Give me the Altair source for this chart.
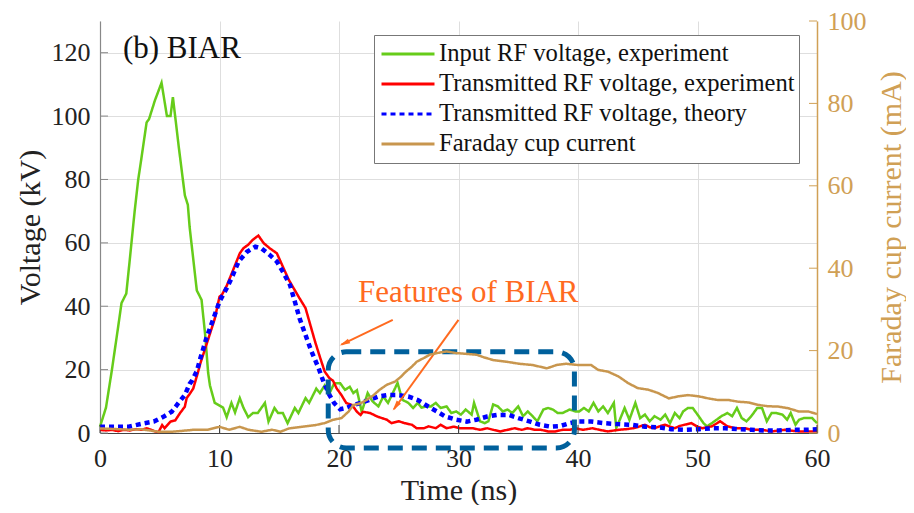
import altair as alt
import pandas as pd

SERIES = ["Input RF voltage, experiment", "Transmitted RF voltage, experiment",
          "Transmitted RF voltage, theory", "Faraday cup current"]
COLORS = ["#66CC1A", "#FF0000", "#0000FF", "#C8964E"]
DASHES = [[1, 0], [1, 0], [5, 4], [1, 0]]
FONT = "Liberation Serif"
TAN = "#D0A055"

# Input RF voltage, experiment (kV)
green_t = [0, 0.5, 1.0, 1.5, 1.8, 2.2, 2.5, 2.9, 3.2, 3.4, 3.9, 4.1, 4.6, 5.15, 5.6, 5.9, 6.1, 6.6,
           7.1, 7.35, 7.5, 7.8, 8.1, 8.5, 8.8, 9.05, 9.2, 9.6, 10.3, 10.6, 11.0, 11.3, 11.7, 12.0,
           12.4, 12.8, 13.2, 13.8, 14.1, 14.6, 14.9, 15.3, 15.7, 16.3, 16.6, 17.2, 17.5, 18.1, 18.4,
           18.8, 19.2, 19.6, 20.1, 20.5, 20.9, 21.2, 21.5, 21.9, 22.4, 22.8, 23.3, 23.7, 24.1, 24.5,
           24.9, 25.3, 25.8, 26.2, 26.6, 26.9, 27.3, 27.7, 28.1, 28.5, 29.0, 29.4, 29.8, 30.2, 30.6,
           31.1, 31.3, 31.8, 32.2, 32.5, 32.9, 33.3, 33.7, 34.1, 34.5, 35.0, 35.4, 35.8, 36.2, 36.6,
           37.1, 37.5, 37.9, 38.3, 38.7, 39.3, 39.8, 40.1, 40.5, 40.9, 41.3, 41.7, 42.1, 42.5, 43.0,
           43.2, 43.5, 43.9, 44.3, 44.8, 45.2, 45.6, 46.0, 46.4, 46.9, 47.3, 47.7, 48.1, 48.5, 48.8,
           49.2, 49.6, 50.1, 50.5, 50.8, 51.2, 51.6, 52.0, 52.5, 52.9, 53.3, 53.7, 54.1, 54.5, 55.0,
           55.4, 55.8, 56.2, 56.6, 57.1, 57.5, 57.8, 58.2, 58.5, 58.9, 59.6, 60.0]
green_v = [2, 8, 20, 33, 41, 44, 55, 70, 80, 85, 98, 99, 105, 110.5, 100, 100, 106, 90,
           75, 72, 65, 55, 45, 42, 31, 19, 15, 9.5, 8, 5, 9.5, 6.5, 11, 8,
           5, 6.3, 6.3, 9.5, 3.6, 7.9, 6.3, 6.3, 3.1, 7.9, 6.3, 11, 9.5, 14, 12.6,
           15, 12.5, 15.7, 15.7, 13.6, 14.6, 12.6, 13.5, 6.7, 12.6, 10, 8.4, 11.5, 9.5, 12.6,
           15.8, 10.5, 9.5, 7.9, 9.5, 8, 8.4, 8.4, 9.5, 7.9, 8.4, 6.3, 6.8, 5.8, 7.4,
           5.8, 9.5, 3.7, 3.1, 3.7, 9, 8.4, 6.8, 7.4, 6.3, 8.4, 5.3, 6.8, 5.3, 3.7,
           7.4, 7.9, 7.4, 6.3, 6.3, 7.4, 6.8, 6.8, 7.9, 6.8, 9.5, 6.8, 8.4, 6.3, 9.5,
           1.6, 4.2, 7.9, 4.2, 9.5, 4.7, 5.8, 3.7, 5.3, 4.2, 5.8, 3.1, 6.3, 4.7, 6.8,
           7.9, 7.9, 5.3, 3.1, 2.1, 3.1, 4.2, 5.3, 6.3, 5.3, 7.9, 4.7, 3.7, 5.3, 7.9,
           7.9, 3.7, 6.3, 6.3, 5.8, 4.2, 6.3, 2.6, 4.2, 4.7, 4.7, 3.1]

# Transmitted RF voltage, experiment (kV)
red_t = [0, 0.5, 1.0, 1.5, 2.0, 2.5, 3.0, 3.5, 3.9, 4.3, 4.6, 4.9, 5.2, 5.4, 5.9, 6.3, 6.7, 7.1,
         7.25, 7.5, 7.8, 8.2, 8.4, 8.9, 9.6, 10.0, 10.2, 10.6, 11.2, 11.7, 12.0, 12.4, 12.8, 13.25,
         13.7, 14.2, 14.8, 15.3, 15.8, 16.2, 16.7, 17.2, 17.6, 18.0, 18.4, 18.8, 19.2, 19.5, 19.8,
         20.2, 20.6, 21.1, 21.5, 21.8, 22.0, 22.6, 23.2, 23.6, 24.0, 24.4, 25.0, 25.5, 26.1, 26.5,
         27.1, 27.5, 28.1, 28.5, 29.0, 29.6, 30.1, 30.7, 31.2, 31.8, 32.4, 32.9, 33.5, 34.1, 34.7,
         35.3, 35.8, 36.4, 36.9, 37.5, 38.1, 38.7, 39.3, 39.8, 40.4, 41.2, 41.8, 42.5, 43.4, 44.0,
         44.6, 45.1, 45.6, 46.0, 46.4, 46.9, 47.3, 47.7, 48.1, 48.5, 48.9, 49.5, 50.0, 50.4, 51.2,
         51.9, 52.5, 53.2, 54.0, 54.5, 55.4, 56.2, 57.3, 58.4, 59.6, 60.0]
red_v = [1, 0.8, 1.0, 0.6, 1.0, 0.8, 1.2, 1.0, 1.5, 1.0, 0.5, 0.3, 2.5, 1.5, 3.6, 4, 6.3, 8.3,
         11, 12.3, 14, 19.2, 22, 27.8, 36, 43, 43.6, 46.4, 52, 56.7, 58.3, 59.4, 61, 62.3,
         59.9, 58.3, 56.7, 52.5, 48.3, 45.7, 42.5, 39.4, 34.1, 28.8, 24, 19.4, 17.3, 16.5, 14.1,
         12, 9.5, 8.8, 6.7, 5.7, 6.7, 6.3, 5.2, 4.7, 4.2, 3.1, 3.7, 3.1, 2.6, 1.5,
         1.5, 2.1, 1.5, 2.6, 1.5, 2.0, 1.5, 1.5, 1.5, 1.0, 1.5, 1.0, 0.5, 1.0, 1.5,
         1.0, 1.5, 1.0, 1.0, 0.5, 0.5, 1.0, 1.0, 1.5, 1.0, 1.5, 1.0, 0.5, 1.0, 1.2,
         1.5, 2.0, 2.6, 1.8, 1.5, 2.2, 2.6, 2.0, 1.5, 2.2, 2.6, 3.1, 2.0, 1.5, 2.1,
         3.7, 2.1, 1.5, 1.5, 1.0, 1.0, 0.5, 1.0, 0.5, 0.5, 0.5]

# Transmitted RF voltage, theory (kV)
blue_t = [0, 1.0, 2.4, 3.6, 4.5, 5.3, 6.0, 6.55, 7.1, 7.5, 7.7, 8.1, 8.4, 8.9, 9.5, 10.0, 10.6,
          11.0, 11.6, 12.3, 13.0, 13.5, 14.2, 14.8, 15.3, 15.9, 16.3, 16.7, 17.2, 17.7, 18.3, 18.7,
          19.2, 19.6, 20.1, 20.6, 21.2, 21.8, 22.5, 23.3, 24.1, 24.9, 25.8, 26.6, 27.5, 28.2, 28.9,
          29.8, 30.7, 31.5, 32.4, 33.2, 34.2, 35.0, 36.0, 36.8, 37.7, 38.5, 39.3, 40.0, 41.1, 42.2,
          43.4, 44.5, 45.6, 46.7, 47.8, 48.9, 50.1, 51.2, 52.3, 53.4, 54.5, 55.7, 56.8, 57.9, 59.0,
          60.0]
blue_v = [2, 2, 2, 3, 3.6, 5.1, 6.7, 9.4, 12, 15.5, 16.5, 19.5, 23.6, 29.9, 36.2, 41.5, 45.7,
          48.8, 54.1, 57.2, 58.8, 58.3, 56.2, 54.1, 50.9, 46.7, 41.5, 36.2, 30.9, 25.7, 20.4, 16.2,
          12, 9.4, 7.5, 7.9, 8.8, 9.5, 10.4, 11.5, 12, 12, 11.5, 10.4, 8.3, 6.8, 5.2,
          4.2, 3.6, 4.2, 5.2, 5.7, 5.7, 4.7, 3.6, 2.6, 2.0, 2.2, 3.1, 3.6, 3.6, 3.1,
          2.8, 2.6, 2.0, 1.8, 1.2, 1.0, 1.2, 1.5, 1.5, 1.2, 1.0, 0.8, 0.8, 1.0, 1.0,
          1.2]

# Faraday cup current (mA)
tan_t = [0, 1.0, 2.4, 3.5, 4.9, 6.0, 6.8, 7.9, 9.0, 10.0, 10.8, 11.7, 12.4, 13.5, 14.4, 15.1, 15.8,
         16.9, 18.0, 18.8, 19.5, 20.2, 20.8, 21.2, 21.8, 22.3, 22.9, 23.4, 24.0, 24.7, 25.2, 25.6,
         26.1, 26.5, 27.1, 27.6, 28.2, 29.0, 29.8, 30.7, 31.5, 32.1, 32.9, 34.0, 35.1, 36.2, 37.4,
         38.2, 39.0, 40.0, 41.1, 41.7, 42.5, 43.4, 44.2, 45.0, 45.9, 46.7, 47.6, 48.4, 49.2, 50.1,
         50.9, 51.7, 52.6, 53.4, 54.3, 55.1, 55.9, 56.8, 57.6, 58.5, 59.3, 60.0]
tan_i = [1.1, 1.0, 0.8, 0.9, 0.3, 0.3, 0.5, 0.8, 0.8, 1.5, 0.8, 1.5, 0.8, 0.3, 0.8, 0.3, 1.1,
         1.5, 1.9, 2.4, 3.2, 3.6, 5.2, 6.8, 7.2, 8.0, 9.2, 10.5, 11.7, 12.5, 13.7, 14.9,
         16.1, 17.3, 18.2, 19.0, 19.4, 19.8, 19.4, 19.2, 19.0, 18.4, 17.7, 17.3, 16.8, 16.5, 15.7,
         16.5, 16.8, 16.5, 16.5, 15.3, 14.9, 13.7, 12.1, 10.9, 10.5, 9.7, 8.4, 8.9, 9.2, 8.9,
         8.4, 8.0, 8.0, 7.6, 7.4, 6.8, 6.5, 6.4, 6.0, 5.2, 5.2, 4.6]

# Axis tick values
x_ticks = [0, 10, 20, 30, 40, 50, 60]
yl_ticks = [0, 20, 40, 60, 80, 100, 120]
yr_ticks = [0, 20, 40, 60, 80, 100]

# Annotations (data units)
box_x = [19.1]; box_x2 = [39.7]; box_y = [-4.7]; box_y2 = [25.6]
arrow_t1 = [24.5, 30.0]; arrow_v1 = [35.7, 35.7]
arrow_t2 = [20.2, 24.6]; arrow_v2 = [27.9, 7.5]
head_t = [20.45, 24.75]; head_v = [28.3, 8.4]; head_angle = [244, 216]
ARROWHEAD = "M0,-1L0.5,1L-0.5,1Z"

def frame(t, v, name):
    return pd.DataFrame({"t": t, "v": v, "series": name})

xs = alt.Scale(domain=[0, 60], nice=False)
yls = alt.Scale(domain=[0, 130], nice=False)
yrs = alt.Scale(domain=[0, 100], nice=False)

legend = alt.Legend(
    title=None, orient="none", legendX=274, legendY=14,
    labelFont=FONT, labelFontSize=24.6, labelColor="#111", labelOffset=3, labelLimit=500,
    symbolType="stroke", symbolSize=2809, symbolStrokeWidth=3, symbolOffset=2,
    clipHeight=30, padding=4, rowPadding=0,
    strokeColor="#777", fillColor="white",
)
color = alt.Color("series:N", scale=alt.Scale(domain=SERIES, range=COLORS), legend=legend)
dash = alt.StrokeDash("series:N", scale=alt.Scale(domain=SERIES, range=DASHES), legend=legend)

x_axis = alt.Axis(values=x_ticks, title="Time (ns)", grid=True, gridColor="#DEDEDE", tickSize=0,
                  labelFlush=False, labelFont=FONT, labelFontSize=26, labelColor="#222",
                  titleFont=FONT, titleFontSize=30, titleFontWeight="normal", titleColor="#222",
                  titleBaseline="alphabetic", titleY=66,
                  labelPadding=12, domainColor="#444", domainWidth=1.2)
yl_axis = alt.Axis(values=yl_ticks, title="Voltage (kV)", grid=True, gridColor="#DEDEDE", tickSize=0,
                   labelFont=FONT, labelFontSize=26, labelColor="#222",
                   titleFont=FONT, titleFontSize=30, titleFontWeight="normal", titleColor="#222",
                   labelPadding=10, titlePadding=6, domainColor="#888", domainWidth=1.2)
yr_axis = alt.Axis(values=yr_ticks, title="Faraday cup current (mA)", orient="right", grid=False,
                   tickSize=0, labelFont=FONT, labelFontSize=26, labelColor=TAN,
                   titleFont=FONT, titleFontSize=30, titleFontWeight="normal", titleColor=TAN,
                   titleAngle=270, titleBaseline="top",
                   labelPadding=10, titlePadding=10, domainColor=TAN, domainWidth=1.5)

def xenc(field="t"):
    return alt.X(f"{field}:Q", scale=xs, axis=x_axis)

def ylenc(field="v"):
    return alt.Y(f"{field}:Q", scale=yls, axis=yl_axis)

def yrenc(field="v"):
    return alt.Y(f"{field}:Q", scale=yrs, axis=yr_axis)

green = alt.Chart(frame(green_t, green_v, SERIES[0])).mark_line(strokeWidth=2.5).encode(
    x=xenc(), y=ylenc(), color=color, strokeDash=dash)
red = alt.Chart(frame(red_t, red_v, SERIES[1])).mark_line(strokeWidth=2.5).encode(
    x=xenc(), y=ylenc(), color=color, strokeDash=dash)
blue = alt.Chart(frame(blue_t, blue_v, SERIES[2])).mark_line(strokeWidth=4.5, strokeCap="butt").encode(
    x=xenc(), y=ylenc(), color=color, strokeDash=dash)

lticks = alt.Chart(pd.DataFrame({"v": yl_ticks})).mark_rule(color="#888", strokeWidth=1).encode(
    y=ylenc(), x=alt.value(0), x2=alt.value(8))
bticks = alt.Chart(pd.DataFrame({"t": x_ticks})).mark_rule(color="#444", strokeWidth=1).encode(
    x=xenc(), y=alt.value(412), y2=alt.value(404))

box = alt.Chart(pd.DataFrame({"t": box_x, "x2": box_x2, "v": box_y, "y2": box_y2})).mark_rect(
    fill=None, fillOpacity=0, stroke="#00609C", strokeWidth=5, strokeDash=[15, 9], cornerRadius=18
).encode(x=xenc(), x2="x2:Q", y=ylenc(), y2="y2:Q")

arrows = alt.Chart(pd.DataFrame({"t": arrow_t1, "v": arrow_v1, "c": arrow_t2, "d": arrow_v2})).mark_rule(
    color="#FF6A1F", strokeWidth=2).encode(x=xenc(), y=ylenc(), x2="c:Q", y2="d:Q")
heads = alt.Chart(pd.DataFrame({"t": head_t, "v": head_v, "ang": head_angle})).mark_point(
    shape=ARROWHEAD, filled=True, size=110, color="#FF6A1F", opacity=1, strokeWidth=0).encode(
    x=xenc(), y=ylenc(), angle=alt.Angle("ang:Q", scale=None))

label_b = alt.Chart(pd.DataFrame({"t": [1.92], "v": [121.3], "s": ["(b) BIAR"]})).mark_text(
    font=FONT, fontSize=31, align="left", baseline="middle", color="#111").encode(
    x=xenc(), y=ylenc(), text="s:N")
label_f = alt.Chart(pd.DataFrame({"t": [21.6], "v": [41.3], "s": ["Features of BIAR"]})).mark_text(
    font=FONT, fontSize=31, align="left", baseline="alphabetic", color="#FF6A1F").encode(
    x=xenc(), y=ylenc(), text="s:N")

left_group = alt.layer(green, red, blue, lticks, bticks, box, arrows, heads, label_b, label_f)

tan = alt.Chart(frame(tan_t, tan_i, SERIES[3])).mark_line(strokeWidth=2.5).encode(
    x=xenc(), y=yrenc(), color=color, strokeDash=dash)
rticks = alt.Chart(pd.DataFrame({"v": yr_ticks})).mark_rule(color=TAN, strokeWidth=1).encode(
    y=yrenc(), x=alt.value(709), x2=alt.value(717))
right_group = alt.layer(tan, rticks)

chart = alt.layer(left_group, right_group).resolve_scale(y="independent").properties(
    width=717, height=412,
    autosize=alt.AutoSizeParams(type="none"),
    padding={"left": 92, "top": 13, "right": 89, "bottom": 72},
).configure(background="white", font=FONT).configure_view(stroke=None).configure_legend(
    labelFont=FONT).configure_text(font=FONT)

chart.save("out.html", embed_options={"renderer": "svg", "actions": False})
